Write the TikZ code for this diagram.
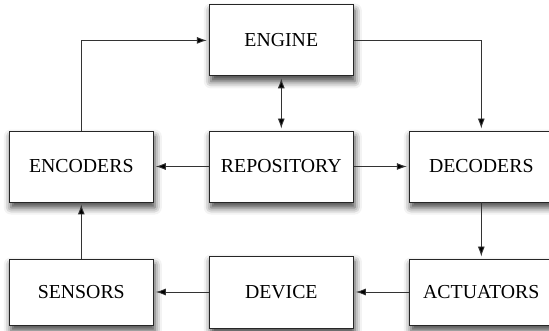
\documentclass[tikz,border=0pt]{standalone}
\usepackage{fontspec}
\setmainfont{Liberation Serif}
\usetikzlibrary{arrows.meta,shadows.blur,calc}
\begin{document}
\begin{tikzpicture}[x=1pt,y=-1pt,
  blk/.style={draw=black!85, line width=0.9pt, fill=white, minimum width=144pt, minimum height=71pt, inner sep=0pt,
    font=\fontsize{19.8}{22}\selectfont,
    blur shadow={shadow xshift=1.5pt, shadow yshift=-5.5pt, shadow blur radius=7pt, shadow opacity=75}},
  conn/.style={draw=black!80, line width=0.9pt, -{Latex[length=10pt,width=7pt,fill=black]}, shorten >=2pt},
  bconn/.style={draw=black!80, line width=0.9pt, {Latex[length=10pt,width=7pt,fill=black]}-{Latex[length=10pt,width=7pt,fill=black]}, shorten >=2pt, shorten <=2pt}]
\useasboundingbox (0,0) rectangle (549,331);
\node[blk] (eng) at (281.3,40.4) {ENGINE};
\node[blk] (enc) at (81.3,166.5) {ENCODERS};
\node[blk] (rep) at (281.3,166.5) {REPOSITORY};
\node[blk] (dec) at (481.3,166.5) {DECODERS};
\node[blk, minimum height=66pt] (sen) at (81.3,292) {SENSORS};
\node[blk, minimum height=72pt] (dev) at (281.3,292) {DEVICE};
\node[blk, minimum height=66pt] (act) at (481.3,292) {ACTUATORS};
\draw[conn] (enc.north) |- (eng.west);
\draw[conn] (eng.east) -| (dec.north);
\draw[bconn] (rep.north) -- (eng.south);
\draw[conn] (rep.west) -- (enc.east);
\draw[conn] (rep.east) -- (dec.west);
\draw[conn] (dec.south) -- (act.north);
\draw[conn] (act.west) -- (dev.east);
\draw[conn] (dev.west) -- (sen.east);
\draw[conn] (sen.north) -- (enc.south);
\end{tikzpicture}
\end{document}
